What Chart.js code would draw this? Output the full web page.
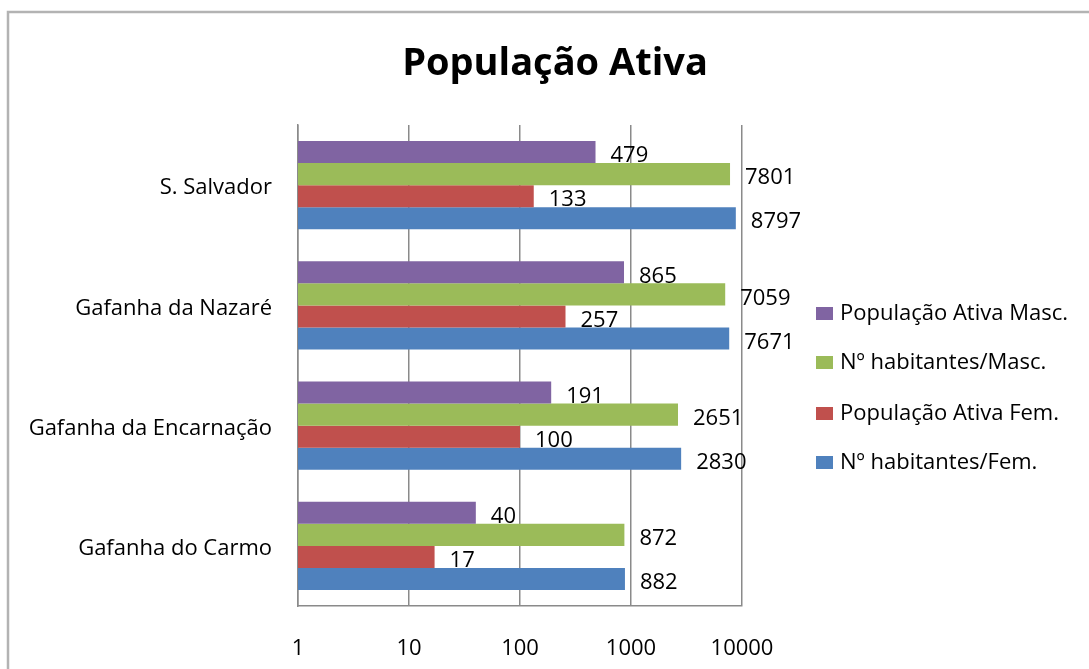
<!DOCTYPE html>
<html>
<head>
<meta charset="utf-8">
<script src="https://cdn.jsdelivr.net/npm/chart.js"></script>
<style>
  body { margin: 0; background: #fff; }
  #wrap { width: 1089px; height: 669px; }
</style>
</head>
<body>
<div id="wrap"><canvas id="popChart" width="1089" height="669"></canvas></div>
<script>
const categories = ['S. Salvador', 'Gafanha da Nazaré', 'Gafanha da Encarnação', 'Gafanha do Carmo'];
const popAtivaMasc = [479, 865, 191, 40];
const habitantesMasc = [7801, 7059, 2651, 872];
const popAtivaFem = [133, 257, 100, 17];
const habitantesFem = [8797, 7671, 2830, 882];
const xTicks = [1, 10, 100, 1000, 10000];

const FONT = "'Open Sans', 'DejaVu Sans', sans-serif";

// frame, title, value labels and legend
const decorations = {
    id: 'decorations',
    beforeDraw(chart) {
        const ctx = chart.ctx;
        ctx.save();
        ctx.strokeStyle = '#b3b3b3';
        ctx.lineWidth = 2.5;
        ctx.beginPath();
        ctx.moveTo(8, 669);
        ctx.lineTo(8, 12);
        ctx.lineTo(1089, 12);
        ctx.stroke();
        ctx.restore();
    },
    afterDatasetsDraw(chart) {
        const ctx = chart.ctx;
        ctx.save();
        ctx.font = '22px ' + FONT;
        ctx.fillStyle = '#000';
        ctx.textAlign = 'left';
        ctx.textBaseline = 'middle';
        chart.data.datasets.forEach((ds, i) => {
            chart.getDatasetMeta(i).data.forEach((bar, j) => {
                ctx.fillText(String(ds.data[j]), bar.x + 15, bar.y + 4);
            });
        });
        ctx.restore();
    },
    afterDraw(chart) {
        const ctx = chart.ctx;
        ctx.save();
        ctx.fillStyle = '#000';
        ctx.font = 'bold 38px ' + FONT;
        ctx.textAlign = 'center';
        ctx.textBaseline = 'middle';
        ctx.fillText('População Ativa', 555, 64);

        ctx.font = '22px ' + FONT;
        ctx.textAlign = 'left';
        const rows = [313, 362, 413, 462];
        chart.data.datasets.forEach((ds, i) => {
            ctx.fillStyle = ds.backgroundColor;
            ctx.fillRect(816, rows[i] - 6, 17, 13);
            ctx.fillStyle = '#000';
            ctx.fillText(ds.label, 840, rows[i] + 1);
        });
        ctx.restore();
    }
};

const ctx = document.getElementById('popChart').getContext('2d');
const popChart = new Chart(ctx, {
    type: 'bar',
    data: {
        labels: categories,
        datasets: [
            { label: 'População Ativa Masc.', data: popAtivaMasc, backgroundColor: '#8064A2' },
            { label: 'Nº habitantes/Masc.', data: habitantesMasc, backgroundColor: '#9BBB59' },
            { label: 'População Ativa Fem.', data: popAtivaFem, backgroundColor: '#C0504D' },
            { label: 'Nº habitantes/Fem.', data: habitantesFem, backgroundColor: '#4F81BD' }
        ]
    },
    options: {
        indexAxis: 'y',
        responsive: false,
        animation: false,
        categoryPercentage: 0.733,
        barPercentage: 1,
        layout: { padding: { left: 0, top: 125, right: 347, bottom: 0 } },
        plugins: {
            legend: { display: false },
            title: { display: false },
            tooltip: { enabled: false }
        },
        scales: {
            x: {
                type: 'logarithmic',
                min: 1,
                max: 10000,
                afterBuildTicks: scale => { scale.ticks = xTicks.map(v => ({ value: v })); },
                afterFit: scale => { scale.height = 63; },
                grid: { color: '#8a8a8a', lineWidth: 1.5, drawTicks: false },
                border: { color: '#8a8a8a', width: 1.5 },
                ticks: {
                    padding: 30,
                    color: '#000',
                    font: { family: FONT, size: 22 },
                    callback: v => String(v)
                }
            },
            y: {
                afterFit: scale => { scale.width = 298; },
                grid: { display: false, drawTicks: false },
                border: { color: '#8a8a8a', width: 1.5 },
                ticks: {
                    padding: 26,
                    labelOffset: 3,
                    color: '#000',
                    font: { family: FONT, size: 22 }
                }
            }
        }
    },
    plugins: [decorations]
});
</script>
</body>
</html>
